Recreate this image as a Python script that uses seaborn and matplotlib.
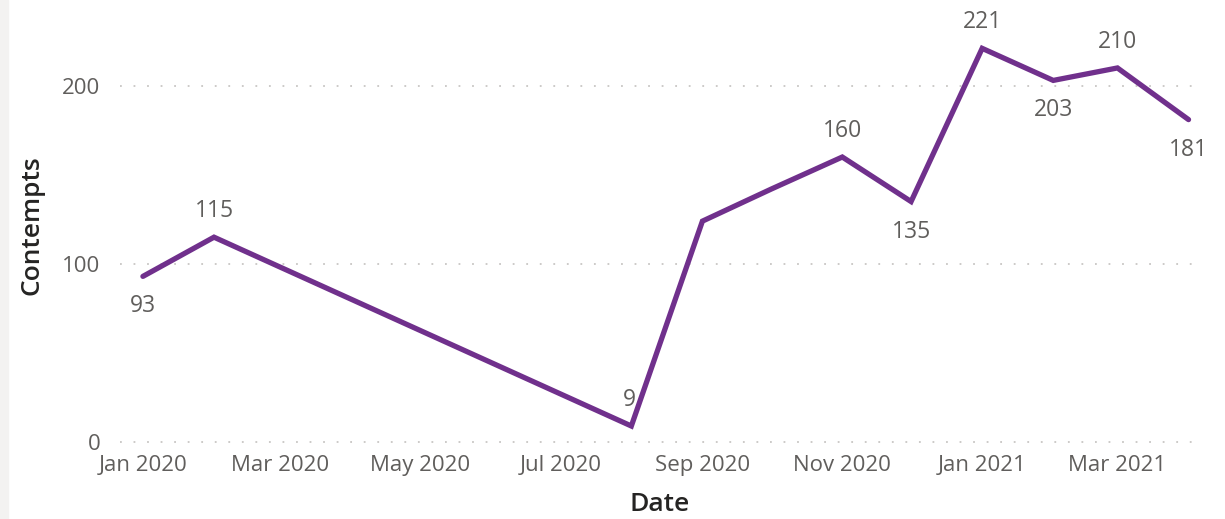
import pandas as pd
import numpy as np
import matplotlib.pyplot as plt
import matplotlib.dates as mdates
import seaborn as sns

# monthly values
dates = ['2020-01-01', '2020-02-01', '2020-08-01', '2020-09-01', '2020-10-01',
         '2020-11-01', '2020-12-01', '2021-01-01', '2021-02-01', '2021-03-01',
         '2021-04-01']
contempts = [93, 115, 9, 124, 142, 160, 135, 221, 203, 210, 181]
# which points carry a data label, and whether it sits above or below
labelled = [True, True, True, False, False, True, True, True, True, True, True]
label_side = ['below', 'above', 'above', None, None, 'above', 'below',
              'above', 'below', 'above', 'below']

df = pd.DataFrame({'Date': pd.to_datetime(dates), 'Contempts': contempts})

sns.set_style('white')
plt.rcParams['font.family'] = ['Open Sans', 'DejaVu Sans']

fig = plt.figure(figsize=(12.25, 5.19), dpi=100)
ax = fig.add_axes([120/1225, (519-445.6)/519, 1080/1225, 440/519])

sns.lineplot(data=df, x='Date', y='Contempts', ax=ax, color='#70308C',
             linewidth=3.8, solid_joinstyle='miter', solid_capstyle='round')

for d, v, show, side in zip(df['Date'], df['Contempts'], labelled, label_side):
    if not show:
        continue
    dy = 26 if side == 'above' else -30
    dx = -2 if v < 20 else 0
    ax.annotate(str(v), (d, v), xytext=(dx, dy), textcoords='offset pixels',
                ha='center', va='center', fontsize=16.5, color='#605E5C')

ax.set_ylim(-2, 245)
ax.set_xlim(pd.Timestamp('2019-12-22'), pd.Timestamp('2021-04-06'))
ax.set_yticks([0, 100, 200])
ax.xaxis.set_major_locator(mdates.MonthLocator(bymonth=[1, 3, 5, 7, 9, 11]))
ax.xaxis.set_major_formatter(mdates.DateFormatter('%b %Y'))
ax.tick_params(axis='both', length=0, labelsize=16, labelcolor='#605E5C')
ax.tick_params(axis='y', pad=14)
ax.tick_params(axis='x', pad=7)

ax.grid(axis='y', color='#C8C6C4', linestyle=(0, (1, 6.5)), linewidth=1.3)
ax.grid(axis='x', visible=False)
sns.despine(ax=ax, left=True, bottom=True)

ax.set_xlabel('Date', fontsize=19, fontweight='semibold', color='#252423')
ax.set_ylabel('Contempts', fontsize=19, fontweight='semibold', color='#252423')
ax.xaxis.set_label_coords(0.5, (445.6-492)/440)
ax.yaxis.set_label_coords((45-120)/1080, 0.5)

# light frame strip on the left edge
fig.patches.append(plt.Rectangle((0, 0), 8/1225, 1, transform=fig.transFigure,
                                 color='#F3F2F1', zorder=0))

fig.savefig('out.png', dpi=100)
plt.close()
